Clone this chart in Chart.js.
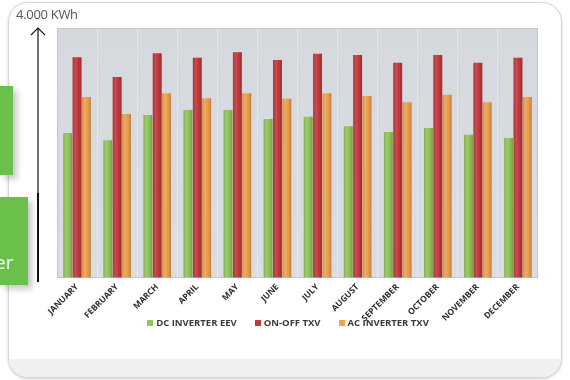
<!DOCTYPE html>
<html>
<head>
<meta charset="utf-8">
<script src="https://cdn.jsdelivr.net/npm/chart.js@4/dist/chart.umd.min.js"></script>
<style>
  html, body { margin: 0; padding: 0; background: #fff; }
  body { width: 570px; height: 380px; position: relative; overflow: hidden; font-family: "Open Sans", sans-serif; }
  .card {
    position: absolute; left: 8px; top: 2px; width: 552px; height: 374px;
    border: 1px solid #d6d6d6; border-radius: 20px; background: #fff;
    box-shadow: 0 1px 3px rgba(0,0,0,0.18); overflow: hidden;
  }
  .card .foot { position: absolute; left: 0; right: 0; top: 356px; bottom: 0; background: #f0f0f0; }
  #chart-wrap { position: absolute; left: 0; top: 0; width: 570px; height: 380px; }
  #chart-wrap canvas, #legend { filter: blur(0.45px); }
  #legend {
    position: absolute; left: 0; width: 576px; top: 316px; text-align: center;
    font-size: 9.5px; font-weight: bold; color: #3a3a3a; white-space: nowrap;
  }
  #legend span.item { margin: 0 9px; }
  #legend i { display: inline-block; width: 6px; height: 6px; margin-right: 3px; vertical-align: 0px; }
  .unit { position: absolute; left: 16px; top: 5px; font-size: 13px; color: #555; letter-spacing: -0.3px; }
  .tab { position: absolute; left: 0; background: #6bbf4b; box-shadow: 4px 4px 6px rgba(0,0,0,0.22); }
  .tab1 { top: 86px; width: 13px; height: 89px; }
  .tab2 { top: 197px; width: 28px; height: 88px; overflow: visible; }
  .tab2 span { position: absolute; left: -5px; top: 55px; color: #fff; font-size: 19px; line-height: 20px; }
  svg.axis { position: absolute; left: 0; top: 0; }
</style>
</head>
<body>
<div class="card"><div class="foot"></div></div>
<div id="chart-wrap"><canvas id="energy-chart" width="570" height="380"></canvas></div>
<div id="legend"></div>
<div class="unit">4.000 KWh</div>
<svg class="axis" width="570" height="380">
  <line x1="38" y1="28" x2="38" y2="193" stroke="#111" stroke-width="1.2"/>
  <line x1="38" y1="193" x2="38" y2="282" stroke="#111" stroke-width="2"/>
  <polyline points="31,35 38,28 45,35" fill="none" stroke="#111" stroke-width="1.1"/>
</svg>
<div class="tab tab1"></div>
<div class="tab tab2"><span>er</span></div>

<script>
// Monthly energy consumption (kWh) for each system
const months = ["JANUARY", "FEBRUARY", "MARCH", "APRIL", "MAY", "JUNE",
  "JULY", "AUGUST", "SEPTEMBER", "OCTOBER", "NOVEMBER", "DECEMBER"];
const dcInverterEev = [2580, 2450, 2900, 2990, 2990, 2830, 2870, 2700, 2600, 2670, 2550, 2490];
const onOffTxv = [3930, 3580, 4000, 3920, 4020, 3880, 3990, 3970, 3830, 3970, 3830, 3920];
const acInverterTxv = [3220, 2920, 3290, 3200, 3290, 3190, 3290, 3240, 3130, 3260, 3130, 3220];
const seriesNames = ["DC INVERTER EEV", "ON-OFF TXV", "AC INVERTER TXV"];
const seriesColors = ["#94c75a", "#c5393c", "#f1a24f"];

const yMax = 4450;
const yStep = 500;

// grey plot background behind the bars
const plotBackground = {
  id: "plotBackground",
  beforeDraw(chart) {
    const { ctx, chartArea: a } = chart;
    ctx.save();
    const g = ctx.createLinearGradient(0, a.top, 0, a.bottom);
    g.addColorStop(0, "#d5d8dc");
    g.addColorStop(1, "#dadde2");
    ctx.fillStyle = g;
    ctx.fillRect(a.left, a.top, a.right - a.left, a.bottom - a.top);
    ctx.strokeStyle = "#c2c5c9";
    ctx.lineWidth = 1;
    ctx.strokeRect(a.left + 0.5, a.top + 0.5, a.right - a.left - 1, a.bottom - a.top - 1);
    ctx.restore();
  },
};

// rounded shading over each bar so they look like cylinders
const barShading = {
  id: "barShading",
  afterDatasetsDraw(chart) {
    const ctx = chart.ctx;
    ctx.save();
    chart.data.datasets.forEach((ds, i) => {
      chart.getDatasetMeta(i).data.forEach((bar) => {
        const left = bar.x - bar.width / 2;
        const g = ctx.createLinearGradient(left, 0, left + bar.width, 0);
        g.addColorStop(0, "rgba(0,0,0,0.12)");
        g.addColorStop(0.35, "rgba(255,255,255,0.10)");
        g.addColorStop(0.7, "rgba(0,0,0,0.05)");
        g.addColorStop(1, "rgba(0,0,0,0.22)");
        ctx.fillStyle = g;
        ctx.fillRect(left, bar.y, bar.width, bar.base - bar.y);
      });
    });
    ctx.restore();
  },
};

const ctx = document.getElementById("energy-chart").getContext("2d");
const chart = new Chart(ctx, {
  type: "bar",
  data: {
    labels: months,
    datasets: [
      { label: seriesNames[0], data: dcInverterEev, backgroundColor: seriesColors[0] },
      { label: seriesNames[1], data: onOffTxv, backgroundColor: seriesColors[1] },
      { label: seriesNames[2], data: acInverterTxv, backgroundColor: seriesColors[2] },
    ],
  },
  options: {
    responsive: false,
    animation: false,
    events: [],
    layout: { padding: { left: 57, right: 32, top: 28, bottom: 40 } },
    datasets: {
      bar: { categoryPercentage: 0.7, barPercentage: 0.95 },
    },
    scales: {
      x: {
        grid: { display: true, color: "rgba(255,255,255,0.35)", drawTicks: false },
        border: { display: false },
        ticks: {
          minRotation: 45,
          maxRotation: 45,
          padding: 4,
          color: "#2e2e2e",
          font: { family: "Open Sans", size: 8.5, weight: "bold" },
        },
        afterFit(scale) { scale.height = 62; },
      },
      y: {
        min: 0,
        max: yMax,
        ticks: { display: false, stepSize: yStep },
        grid: {
          drawTicks: false,
          color: (c) => (c.tick && c.tick.value % yStep === 0 && c.tick.value > 0 ? "rgba(160,168,178,0.55)" : "transparent"),
        },
        border: { display: false },
        afterFit(scale) { scale.width = 0; },
      },
    },
    plugins: {
      tooltip: { enabled: false },
      legend: { display: false },
    },
  },
  plugins: [plotBackground, barShading],
});

// legend under the axis labels, built from the datasets
document.getElementById("legend").innerHTML = chart.data.datasets
  .map((ds) => `<span class="item"><i style="background:${ds.backgroundColor}"></i>${ds.label}</span>`)
  .join("");
</script>
</body>
</html>
